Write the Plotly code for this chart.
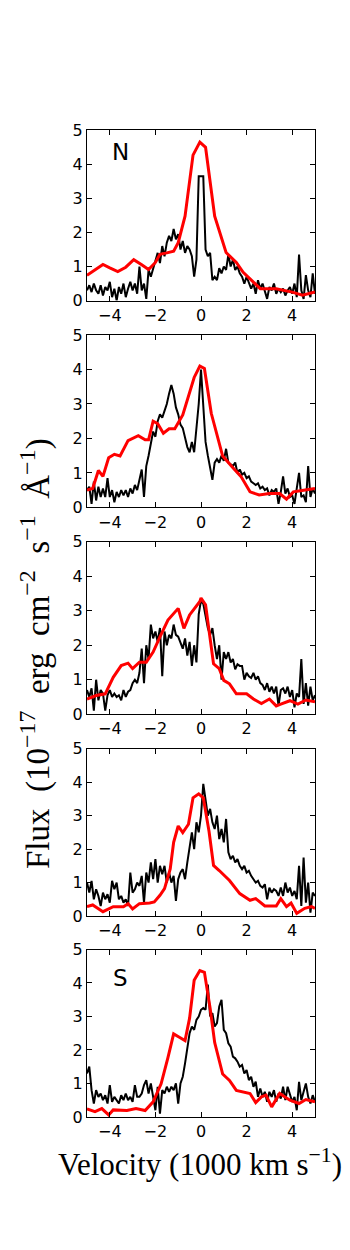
import numpy as np
import plotly.graph_objects as go

# velocity grid of the observed spectra (1000 km/s)
velocity = np.round(np.linspace(-5, 5, 101), 1)

obs_1 = [0.3, 0.45, 0.25, 0.5, 0.3, 0.2, 0.45, 0.15, 0.4, 0.3,
         0.55, 0.1, 0.35, 0.0, 0.4, 0.2, 0.5, 0.1, 0.35, 0.55,
         0.3, 0.5, 0.2, 1.0, 0.3, 0.5, 0.05, 0.9, 0.7, 0.95,
         1.2, 1.4, 1.1, 1.6, 1.3, 1.7, 1.9, 1.75, 2.1, 1.8,
         1.95, 1.5, 1.75, 1.4, 1.6, 1.5, 1.3, 0.7, 1.2, 3.65,
         3.65, 3.65, 1.5, 1.3, 1.4, 0.6, 0.7, 0.6, 0.95, 0.8,
         1.0, 0.9, 1.35, 1.0, 1.2, 0.9, 1.0, 0.8, 0.7, 0.5,
         0.7, 0.55, 0.35, 0.5, 0.2, 0.6, 0.35, 0.5, 0.3, 0.05,
         0.4, 0.3, 0.5, 0.2, 0.35, 0.25, 0.35, 0.15, 0.3, 0.4,
         0.2, 0.5, 0.1, 1.35, 0.3, 0.05, 0.75, 0.3, 0.1, 0.8,
         0.2]
obs_2 = [0.5, 0.6, 0.1, 0.75, 0.2, 0.6, 0.3, 0.55, 0.3, 0.85,
         0.3, 0.5, 0.15, 0.45, 0.3, 0.5, 0.35, 0.5, 0.3, 0.55,
         0.4, 0.65, 0.5, 0.8, 1.1, 0.3, 1.2, 1.5, 1.9, 2.2,
         2.05, 2.5, 2.7, 2.6, 2.8, 3.0, 3.3, 3.55, 3.3, 2.9,
         2.7, 2.4, 2.3, 2.0, 1.75, 1.6, 1.9, 1.6, 2.3, 3.0,
         4.0, 2.8, 1.9, 1.5, 1.2, 0.8, 1.3, 1.4, 1.3, 1.5,
         1.35, 1.7, 1.3, 1.25, 1.2, 1.3, 1.0, 1.1, 0.95, 1.0,
         0.85, 0.9, 0.75, 0.7, 0.65, 0.7, 0.55, 0.6, 0.5, 0.55,
         0.35, 0.5, 0.45, 0.55, 0.1, 0.45, 0.9, 0.4, 0.55, 0.3,
         0.35, 0.1, 0.5, 1.0, 0.3, 0.35, 0.15, 1.2, 0.3, 0.55,
         0.4]
obs_3 = [0.7, 0.5, 0.75, 0.1, 1.0, 0.4, 0.7, 0.6, 0.1, 0.55,
         0.7, 0.5, 0.6, 0.5, 0.55, 0.4, 0.7, 0.5, 0.65, 0.7,
         0.9, 1.0, 0.9, 1.2, 1.9, 0.9, 2.0, 1.6, 2.6, 2.2,
         2.4, 2.1, 2.5, 1.1, 2.4, 2.0, 2.3, 2.2, 2.6, 2.3,
         2.25, 2.1, 1.9, 2.2, 1.7, 2.1, 1.4, 2.0, 1.5, 2.9,
         3.3, 3.2, 2.8, 2.5, 2.3, 2.5, 2.0, 1.6, 2.0, 1.0,
         1.8, 1.6, 1.8, 1.5, 1.6, 1.3, 1.45, 1.4, 1.4, 1.0,
         1.2, 1.1, 1.05, 1.2, 1.0, 1.1, 0.9, 0.85, 0.7, 0.9,
         0.65, 0.8, 0.6, 0.8, 0.25, 0.7, 0.75, 0.6, 0.8, 0.5,
         0.7, 0.2, 0.6, 0.5, 1.6, 0.3, 0.9, 0.25, 0.8, 0.4,
         0.55]
obs_4 = [1.0, 0.7, 1.05, 0.5, 0.8, 0.6, 0.3, 0.7, 0.5, 0.65,
         0.4, 1.05, 0.8, 1.0, 0.5, 0.6, 0.4, 0.5, 0.3, 1.3,
         0.7, 0.8, 1.0, 0.9, 1.2, 0.4, 1.3, 1.0, 1.6, 1.1,
         1.7, 1.0, 1.5, 1.25, 1.5, 1.0, 1.3, 1.0, 1.2, 0.45,
         1.1, 1.3, 1.4, 1.1, 1.6, 2.1, 2.5, 2.0, 2.8, 2.5,
         3.0, 3.95, 3.4, 3.0, 3.2, 2.8, 2.6, 3.0, 2.3, 2.6,
         2.2, 2.9, 1.9, 1.7, 1.8, 1.6, 1.7, 1.5, 1.4, 1.5,
         1.3, 1.35, 1.2, 1.1, 1.0, 1.05, 0.9, 0.85, 0.95, 0.5,
         0.85, 0.7, 0.8, 0.75, 0.6, 0.85, 0.6, 1.0, 0.7, 0.85,
         0.6, 0.75, 0.5, 1.5, 0.3, 1.75, 0.4, 1.0, 0.1, 0.7,
         0.6]
obs_5 = [1.3, 1.5, 0.8, 0.4, 0.8, 0.6, 0.7, 0.5, 0.65, 0.4,
         0.95, 0.45, 0.6, 0.5, 0.4, 0.65, 0.5, 0.7, 0.5, 0.6,
         0.45, 0.95, 0.6, 0.6, 0.7, 0.95, 1.1, 0.7, 1.0, 0.6,
         0.2, 0.9, 0.1, 0.8, 0.7, 0.9, 0.75, 0.9, 0.8, 1.0,
         0.4, 1.0, 1.2, 1.6, 2.0, 2.5, 2.7, 2.6, 2.9, 3.0,
         3.2, 3.25, 3.2, 3.95, 3.0, 3.1, 2.7, 2.8, 3.3, 3.5,
         2.6, 2.5, 2.2, 2.1, 1.8, 1.75, 1.65, 1.5, 1.55, 1.3,
         1.4, 1.1, 1.2, 0.9, 1.05, 0.6, 0.85, 0.6, 0.75, 0.45,
         0.75, 0.6, 0.8, 0.45, 0.7, 0.55, 0.9, 0.5, 0.9, 0.7,
         0.45, 0.6, 0.2, 1.05, 0.5, 0.75, 1.0, 0.6, 0.4, 0.65,
         0.45]

# model profiles (coarser sampling)
model_v1 = [-5, -4.3, -4.0, -3.65, -3.3, -2.95, -2.6, -2.3, -2.0, -1.8, -1.5, -1.2,
            -1.0, -0.7, -0.35, -0.05, 0.2, 0.6, 1.1, 1.55, 1.85, 2.3, 2.6, 3.3, 4.0, 4.45, 5]
model_f1 = [0.74, 1.06, 0.96, 0.85, 0.98, 1.2, 1.05, 0.91, 1.12, 1.36, 1.4, 1.45,
            1.7, 2.48, 4.27, 4.65, 4.5, 2.48, 1.41, 1.12, 0.83, 0.54, 0.35, 0.35, 0.25, 0.16, 0.25]
model_v2 = [-5, -4.75, -4.5, -4.3, -4.05, -3.8, -3.55, -3.2, -2.75, -2.45, -2.3, -2.1,
            -1.9, -1.65, -1.4, -1.15, -0.8, -0.3, -0.05, 0.15, 0.45, 0.75, 0.95, 1.4,
            1.75, 2.15, 2.55, 3.0, 3.45, 3.75, 4.05, 4.5, 5]
model_f2 = [0.5, 0.55, 1.07, 0.9, 1.44, 1.54, 1.49, 1.94, 2.08, 1.96, 1.96, 2.5,
            2.43, 2.15, 2.28, 2.28, 2.68, 3.77, 4.1, 4.03, 2.73, 1.99, 1.49, 1.15,
            0.9, 0.45, 0.36, 0.4, 0.4, 0.24, 0.45, 0.5, 0.55]
model_v3 = [-5, -4.6, -4.2, -3.85, -3.5, -3.2, -3.0, -2.7, -2.4, -2.1, -1.8, -1.45,
            -1.0, -0.75, -0.5, -0.05, 0.0, 0.2, 0.55, 0.8, 1.0, 1.25, 1.55, 2.0, 2.3,
            2.65, 3.0, 3.3, 3.5, 3.9, 4.25, 4.6, 5]
model_f3 = [0.44, 0.54, 0.59, 1.07, 1.41, 1.48, 1.32, 1.51, 1.51, 1.8, 2.24, 2.73,
            3.07, 2.49, 2.88, 3.27, 3.37, 3.17, 1.46, 1.32, 0.98, 0.88, 0.59, 0.59, 0.44,
            0.31, 0.44, 0.24, 0.29, 0.39, 0.29, 0.41, 0.36]
model_v4 = [-5, -4.75, -4.3, -3.85, -3.4, -3.2, -3.0, -2.7, -2.25, -2.05, -1.8, -1.6,
            -1.35, -1.2, -1.0, -0.8, -0.55, -0.35, -0.1, 0.1, 0.35, 0.55, 0.8, 1.25,
            1.7, 2.15, 2.4, 2.8, 3.3, 3.5, 3.75, 3.95, 4.2, 4.55, 4.85, 5]
model_f4 = [0.28, 0.33, 0.13, 0.28, 0.28, 0.37, 0.21, 0.37, 0.39, 0.42, 0.62, 0.82,
            1.41, 2.2, 2.69, 2.49, 2.74, 3.53, 3.65, 3.53, 2.54, 1.51, 1.36, 1.06,
            0.67, 0.47, 0.52, 0.3, 0.3, 0.52, 0.28, 0.39, 0.08, 0.23, 0.28, 0.23]
model_v5 = [-5, -4.65, -4.35, -4.05, -3.85, -3.25, -2.85, -2.45, -2.1, -1.75, -1.45,
            -1.2, -0.95, -0.7, -0.5, -0.3, -0.05, 0.15, 0.4, 0.6, 0.95, 1.25, 1.55,
            1.85, 2.15, 2.4, 2.65, 2.85, 3.1, 3.45, 3.9, 4.3, 4.6, 5]
model_f5 = [0.24, 0.16, 0.25, 0.06, 0.21, 0.19, 0.25, 0.19, 0.45, 0.99, 1.77,
            2.48, 2.38, 2.28, 2.95, 4.08, 4.37, 4.32, 3.25, 2.22, 1.28, 1.09, 0.79,
            0.75, 0.7, 0.43, 0.6, 0.65, 0.3, 0.7, 0.5, 0.4, 0.52, 0.45]

observed = [obs_1, obs_2, obs_3, obs_4, obs_5]
models = [(model_v1, model_f1), (model_v2, model_f2), (model_v3, model_f3),
          (model_v4, model_f4), (model_v5, model_f5)]
panel_labels = {1: ('N', 4.35), 5: ('S', 4.15)}

x_ticks = [-4, -2, 0, 2, 4]
y_ticks = [0, 1, 2, 3, 4, 5]

# the page body adds an 8px offset, so the figure is laid out 8px up/left
OFF = 8
W, H = 350 - OFF, 1250 - OFF
panels_px = [(123, 296), (331, 506), (541, 716), (751, 921), (955, 1125)]  # top, bottom
x_px = (87, 315)

fig = go.Figure()
layout = dict(
    width=W, height=H,
    margin=dict(l=0, r=0, t=0, b=0),
    paper_bgcolor='white', plot_bgcolor='white',
    showlegend=False,
    font=dict(family='DejaVu Sans', size=16, color='black'),
)

axis_common = dict(
    showgrid=False, zeroline=False,
    showline=True, linecolor='black', linewidth=1, mirror='ticks',
    ticks='inside', ticklen=5, tickwidth=1, tickcolor='black',
    tickfont=dict(family='DejaVu Sans', size=16, color='black'),
)

annotations = []
for i, (top, bot) in enumerate(panels_px, start=1):
    suffix = '' if i == 1 else str(i)
    xa, ya = 'x' + suffix, 'y' + suffix
    fig.add_trace(go.Scatter(x=velocity, y=observed[i - 1], mode='lines',
                             line=dict(color='black', width=2),
                             xaxis=xa, yaxis=ya))
    mv, mf = models[i - 1]
    fig.add_trace(go.Scatter(x=mv, y=mf, mode='lines',
                             line=dict(color='red', width=3),
                             xaxis=xa, yaxis=ya))
    layout['xaxis' + suffix] = dict(axis_common, range=[-5, 5], tickvals=x_ticks,
                                    domain=[(x_px[0] - OFF) / W, (x_px[1] - OFF) / W],
                                    anchor=ya)
    layout['yaxis' + suffix] = dict(axis_common, range=[0, 5], tickvals=y_ticks,
                                    domain=[1 - (bot - OFF) / H, 1 - (top - OFF) / H],
                                    anchor=xa)
    if i in panel_labels:
        label, ly = panel_labels[i]
        annotations.append(dict(text=label, x=-3.55, y=ly, xref=xa, yref=ya,
                                xanchor='center', yanchor='middle', showarrow=False,
                                font=dict(family='DejaVu Sans', size=23)))


def sup(s):
    return f'<sup><span style="font-size:24px">{s}</span></sup>'


sp = '\u2002'
annotations.append(dict(
    text=f'Flux{sp}(10{sup("−17")}{sp}erg{sp}cm{sup("−2")}{sp}s{sup("−1")}{sp}Å{sup("−1")})',
    x=(35 - OFF) / W, y=1 - (655 - OFF) / H, xref='paper', yref='paper', textangle=-90,
    xanchor='center', yanchor='middle', showarrow=False,
    font=dict(family='Liberation Serif', size=33, color='black')))
annotations.append(dict(
    text='Velocity (1000 km s<sup>−1</sup>)',
    x=(200 - OFF) / W, y=1 - (1171 - OFF) / H, xref='paper', yref='paper',
    xanchor='center', yanchor='middle', showarrow=False,
    font=dict(family='Liberation Serif', size=31, color='black')))

layout['annotations'] = annotations
fig.update_layout(**layout)
fig.write_html("out.html")
